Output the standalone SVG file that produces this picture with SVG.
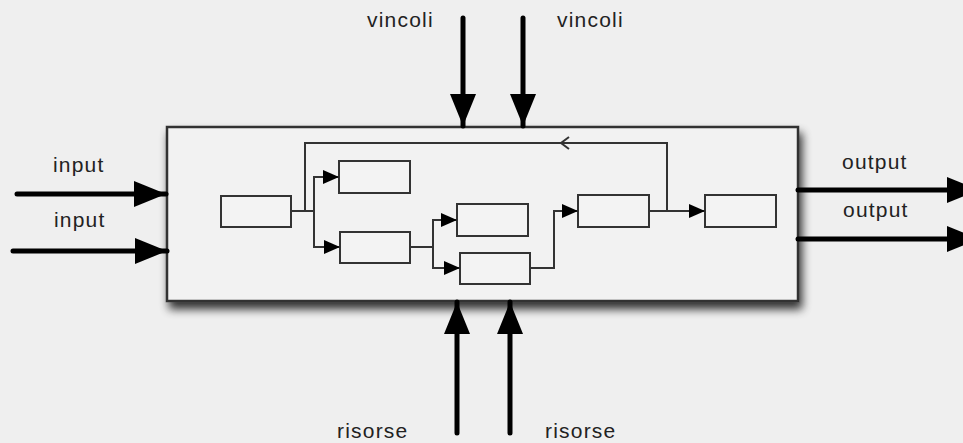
<svg xmlns="http://www.w3.org/2000/svg" width="963" height="443" viewBox="0 0 963 443">
  <defs>
    <style>
      .lbl { font-family: "Liberation Sans", Arial, sans-serif; font-size: 21px; letter-spacing: 1.2px; fill: #222; }
      .node { fill: #f3f3f3; stroke: #333; stroke-width: 2; }
      .thin { fill: none; stroke: #333; stroke-width: 2; }
      .big { fill: none; stroke: #000; stroke-width: 5; stroke-linecap: round; }
    </style>
    <marker id="sm" markerUnits="userSpaceOnUse" markerWidth="17" markerHeight="15" refX="16" refY="7" orient="auto">
      <path d="M0,0 L16,7 L0,14 z" fill="#000"/>
    </marker>
    <marker id="bg" markerUnits="userSpaceOnUse" markerWidth="34" markerHeight="28" refX="32" refY="13" orient="auto">
      <path d="M0,0 L32,13 L0,26 z" fill="#000"/>
    </marker>
    <filter id="sh" x="-10%" y="-20%" width="120%" height="150%">
      <feGaussianBlur in="SourceAlpha" stdDeviation="5"/>
      <feOffset dx="3" dy="7" result="b"/>
      <feComponentTransfer><feFuncA type="linear" slope="0.8"/></feComponentTransfer>
      <feMerge><feMergeNode/><feMergeNode in="SourceGraphic"/></feMerge>
    </filter>
  </defs>
  <rect x="0" y="0" width="963" height="443" fill="#efefef"/>

  <g id="system">
    <rect x="167" y="127" width="631" height="174" fill="#f2f2f2" stroke="#333" stroke-width="2.5" filter="url(#sh)"/>
  </g>

  <g id="nodeA"><rect class="node" x="221" y="196" width="70" height="31"/></g>
  <g id="nodeB"><rect class="node" x="339" y="161" width="71" height="32"/></g>
  <g id="nodeC"><rect class="node" x="340" y="232" width="70" height="31"/></g>
  <g id="nodeD"><rect class="node" x="457" y="204" width="71" height="32"/></g>
  <g id="nodeE"><rect class="node" x="460" y="253" width="70" height="31"/></g>
  <g id="nodeF"><rect class="node" x="578" y="195" width="71" height="32"/></g>
  <g id="nodeG"><rect class="node" x="705" y="195" width="71" height="32"/></g>

  <g id="connectors">
    <path class="thin" d="M291,211 H314 V177 H339" marker-end="url(#sm)"/>
    <path class="thin" d="M314,211 V247 H340" marker-end="url(#sm)"/>
    <path class="thin" d="M667,211 V143 H305 V211"/>
    <path class="thin" d="M569,137 L561,143 L569,149"/>
    <path class="thin" d="M410,247 H433 V220 H457" marker-end="url(#sm)"/>
    <path class="thin" d="M433,247 V268 H460" marker-end="url(#sm)"/>
    <path class="thin" d="M530,268 H554 V211 H578" marker-end="url(#sm)"/>
    <path class="thin" d="M649,211 H705" marker-end="url(#sm)"/>

    <path class="big" d="M17,194 H166" marker-end="url(#bg)"/>
    <path class="big" d="M13,251 H167" marker-end="url(#bg)"/>
    <path class="big" d="M798,190 H979" marker-end="url(#bg)"/>
    <path class="big" d="M798,239 H979" marker-end="url(#bg)"/>
    <path class="big" d="M463,18 V126" marker-end="url(#bg)"/>
    <path class="big" d="M523,18 V126" marker-end="url(#bg)"/>
    <path class="big" d="M457,433 V302" marker-end="url(#bg)"/>
    <path class="big" d="M510,433 V302" marker-end="url(#bg)"/>
  </g>

  <g id="labels">
    <text class="lbl" x="53" y="172">input</text>
    <text class="lbl" x="54" y="227">input</text>
    <text class="lbl" x="842" y="169">output</text>
    <text class="lbl" x="843" y="217">output</text>
    <text class="lbl" x="367" y="27">vincoli</text>
    <text class="lbl" x="557" y="27">vincoli</text>
    <text class="lbl" x="337" y="438">risorse</text>
    <text class="lbl" x="545" y="438">risorse</text>
  </g>
</svg>
